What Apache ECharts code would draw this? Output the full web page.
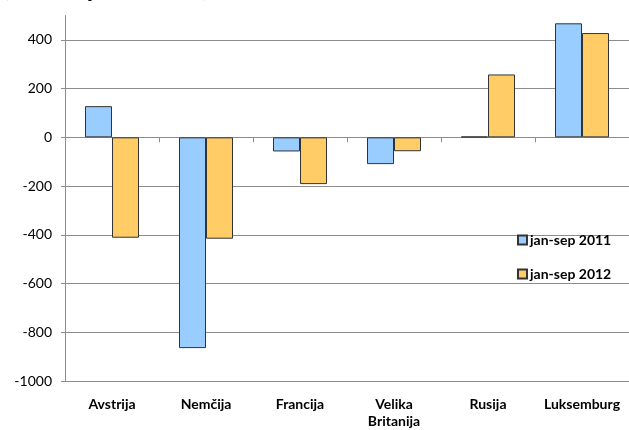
<!DOCTYPE html>
<html>
<head>
<meta charset="utf-8">
<script src="https://cdn.jsdelivr.net/npm/echarts@6/dist/echarts.min.js"></script>
<style>
html,body{margin:0;padding:0;background:#fff;}
#c{width:629px;height:430px;}
</style>
</head>
<body>
<div id="c"></div>
<script>
var categories = ['Avstrija', 'Nemčija', 'Francija', 'Velika\nBritanija', 'Rusija', 'Luksemburg'];
var series2011 = [128, -865, -58, -110, 3, 468];
var series2012 = [-412, -416, -192, -57, 258, 428];
var seriesNames = ['jan-sep 2011', 'jan-sep 2012'];
var titleText = '(transakcije v mio EUR)';

var FONT = 'Lato, "Open Sans", sans-serif';
var chart = echarts.init(document.getElementById('c'));
chart.setOption({
  animation: false,
  backgroundColor: '#fff',
  graphic: [{
    type: 'text', left: 4, top: -19,
    style: { text: titleText, font: 'bold 20px ' + FONT, fill: '#000' }
  }],
  legend: {
    orient: 'vertical',
    left: 512, top: 228,
    itemWidth: 9, itemHeight: 9, itemGap: 20,
    icon: 'rect',
    textStyle: { fontFamily: FONT, fontWeight: 'bold', fontSize: 14, color: '#000', padding: [0, 0, 0, -2] },
    data: seriesNames
  },
  grid: { left: 65, right: -4, top: 15.5, bottom: 47, containLabel: false },
  xAxis: [{
    type: 'category', data: categories, position: 'bottom',
    axisLine: { show: false, onZero: false },
    axisTick: { show: false },
    axisLabel: { fontFamily: FONT, fontWeight: 'bold', fontSize: 14, color: '#000', margin: 15, lineHeight: 17, interval: 0 }
  }, {
    type: 'category', data: categories, position: 'bottom',
    axisLine: { show: true, onZero: true, lineStyle: { color: '#8c8c8c', width: 1 } },
    axisTick: { show: true, length: 5, lineStyle: { color: '#8c8c8c' } },
    axisLabel: { show: false }
  }],
  yAxis: {
    type: 'value', min: -1000, max: 500, interval: 200,
    axisLine: { show: true, lineStyle: { color: '#8c8c8c' } },
    axisTick: { show: true, length: 4, lineStyle: { color: '#8c8c8c' } },
    axisLabel: { fontFamily: FONT, fontSize: 14, color: '#000', margin: 13, showMaxLabel: false,
      formatter: function (v) { return v === 500 ? '' : String(v); } },
    splitLine: { show: true, showMaxLine: false, lineStyle: { color: '#8c8c8c', width: 1 } }
  },
  series: [{
    name: seriesNames[0], type: 'bar', data: series2011, xAxisIndex: 0,
    barWidth: 27, barGap: '0%',
    itemStyle: { color: '#99CCFF', borderColor: '#333333', borderWidth: 1 }
  }, {
    name: seriesNames[1], type: 'bar', data: series2012, xAxisIndex: 0,
    barWidth: 27, barGap: '0%',
    itemStyle: { color: '#FFCC66', borderColor: '#333333', borderWidth: 1 }
  }]
});
</script>
</body>
</html>
